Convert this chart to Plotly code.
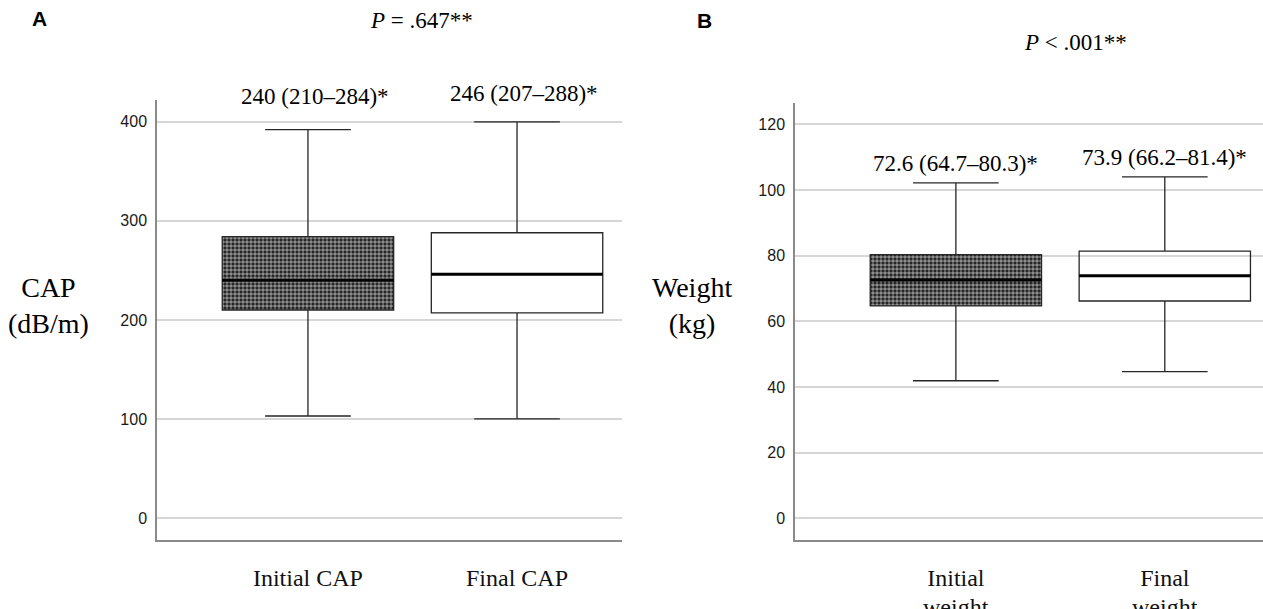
import plotly.graph_objects as go

# ---------------- data ----------------
cap_categories = ["Initial CAP", "Final CAP"]
cap_q1 = [210, 207]
cap_median = [240, 246]
cap_q3 = [284, 288]
cap_lower = [103, 100]
cap_upper = [392, 400]
cap_labels = ["240 (210–284)*", "246 (207–288)*"]
cap_ticks = [0, 100, 200, 300, 400]
cap_p = "<i>P</i> = .647**"

wt_categories = ["Initial", "Final"]
wt_categories_line2 = ["weight", "weight"]
wt_q1 = [64.7, 66.2]
wt_median = [72.6, 73.9]
wt_q3 = [80.3, 81.4]
wt_lower = [41.9, 44.7]
wt_upper = [102.2, 104.0]
wt_labels = ["72.6 (64.7–80.3)*", "73.9 (66.2–81.4)*"]
wt_ticks = [0, 20, 40, 60, 80, 100, 120]
wt_p = "<i>P</i> < .001**"

# ---------------- style ----------------
W, H = 1263, 609


def fx(p):
    return p / W


def fy(p):
    return 1 - p / H


BOX_W = 0.82
SERIF = "Liberation Serif, Times New Roman, serif"
SANS = "Liberation Sans, Arial, sans-serif"
LINE = "#262626"
GRID = "#d6d6d6"
AXIS = "#8a8a8a"

fig = go.Figure()


def add_panel(xa, ya, q1, med, q3, lo, hi):
    pos = list(range(len(q1)))
    # patterned (checkered) fill for the first (initial) box
    fig.add_trace(go.Bar(
        x=[pos[0]], y=[q3[0] - q1[0]], base=[q1[0]], width=BOX_W,
        marker=dict(color="black", line=dict(width=0),
                    pattern=dict(shape=".", fgcolor="white", bgcolor="#1a1a1a",
                                 size=4, solidity=0.62)),
        xaxis=xa, yaxis=ya, hoverinfo="skip", showlegend=False))
    fig.add_trace(go.Box(
        x=pos, q1=q1, median=med, q3=q3, lowerfence=lo, upperfence=hi,
        width=BOX_W, whiskerwidth=0.5, fillcolor="rgba(0,0,0,0)",
        line=dict(color=LINE, width=1.3), boxpoints=False,
        xaxis=xa, yaxis=ya, hoverinfo="skip", showlegend=False))
    mx, my = [], []
    for p, m in zip(pos, med):
        mx += [p - BOX_W / 2, p + BOX_W / 2, None]
        my += [m, m, None]
    fig.add_trace(go.Scatter(x=mx, y=my, mode="lines",
                             line=dict(color="black", width=3),
                             xaxis=xa, yaxis=ya, hoverinfo="skip",
                             showlegend=False))


add_panel("x", "y", cap_q1, cap_median, cap_q3, cap_lower, cap_upper)
add_panel("x2", "y2", wt_q1, wt_median, wt_q3, wt_lower, wt_upper)

xcommon = dict(showgrid=False, zeroline=False, showline=True, linecolor=AXIS,
               linewidth=1.5, ticks="", automargin=False,
               tickfont=dict(family=SERIF, size=24, color="#111"), fixedrange=True)
ycommon = dict(showgrid=True, gridcolor=GRID, gridwidth=1.5, zeroline=False,
               showline=True, linecolor=AXIS, linewidth=1.5, ticks="", automargin=False,
               tickfont=dict(family=SANS, size=16, color="#1a1a1a"), fixedrange=True)

fig.update_layout(
    width=W, height=H, margin=dict(l=0, r=0, t=0, b=0, autoexpand=False),
    paper_bgcolor="white", plot_bgcolor="white", showlegend=False,
    barmode="overlay",
    xaxis=dict(domain=[fx(157), fx(622)], range=[-0.722, 1.502],
               tickvals=[0, 1], ticktext=cap_categories, anchor="y",
               ticklabelstandoff=15, **xcommon),
    yaxis=dict(domain=[fy(540), fy(100)], range=[-22.2, 422],
               tickvals=cap_ticks, anchor="x", ticklabelstandoff=5, **ycommon),
    xaxis2=dict(domain=[fx(795), 1.0], range=[-0.77, 1.47],
                tickvals=[0, 1], ticktext=wt_categories, anchor="y2",
                ticklabelstandoff=15, **xcommon),
    yaxis2=dict(domain=[fy(540), fy(103)], range=[-6.6, 126.5],
                tickvals=wt_ticks, anchor="x2", ticklabelstandoff=5, **ycommon),
)


def pann(text, px, py, font):
    return dict(text=text, x=fx(px), y=fy(py), xref="paper", yref="paper",
                xanchor="center", yanchor="middle", showarrow=False, font=font)


ann = [
    pann("<b>A</b>", 40, 19, dict(family=SANS, size=21, color="black")),
    pann("<b>B</b>", 704, 21, dict(family=SANS, size=21, color="black")),
    pann(cap_p, 421, 21, dict(family=SERIF, size=23, color="black")),
    pann(wt_p, 1075, 42, dict(family=SERIF, size=23, color="black")),
    pann("CAP<br>(dB/m)", 48, 305, dict(family=SERIF, size=28, color="black")),
    pann("Weight<br>(kg)", 692, 305, dict(family=SERIF, size=28, color="black")),
]
# panel A labels sit above the axis range -> vertical position in paper coords
for i, (lab, py) in enumerate(zip(cap_labels, [96, 93])):
    ann.append(dict(text=lab, x=i, y=fy(py), xref="x", yref="paper", showarrow=False,
                    xanchor="center", yanchor="middle", xshift=7,
                    font=dict(family=SERIF, size=23, color="black")))
for i, (lab, py) in enumerate(zip(wt_labels, [163, 157])):
    ann.append(dict(text=lab, x=i, y=fy(py), xref="x2", yref="paper", showarrow=False,
                    xanchor="center", yanchor="middle",
                    font=dict(family=SERIF, size=23, color="black")))
# second line of the panel B category labels (cut at the bottom edge, as in the reference)
for i, lab in enumerate(wt_categories_line2):
    ann.append(dict(text=lab, x=i, y=fy(607), xref="x2", yref="paper", showarrow=False,
                    xanchor="center", yanchor="middle",
                    font=dict(family=SERIF, size=24, color="#111")))
fig.update_layout(annotations=ann)

fig.write_html("out.html", config={"displayModeBar": False},
               post_script="document.body.style.margin='0';")
